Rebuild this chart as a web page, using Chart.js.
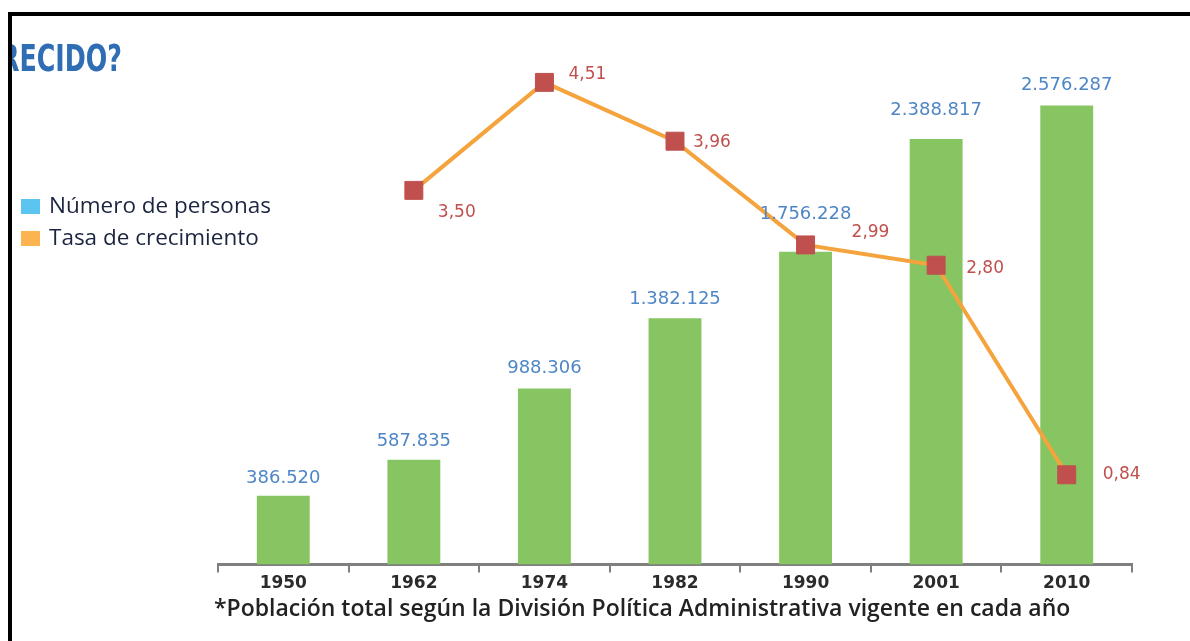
<!DOCTYPE html>
<html>
<head>
  <meta charset="utf-8">
  <script src="https://cdn.jsdelivr.net/npm/chart.js"></script>
  <title>Crecimiento de la población</title>
  <style>
    body { margin: 0; background: #fff; }
    .wrap { position: relative; width: 1190px; height: 641px; overflow: hidden; }
    canvas { position: absolute; left: 0; top: 0; }
    .frame {
      position: absolute; left: 8px; top: 12px; width: 1200px; height: 700px;
      border-top: 4px solid #000; border-left: 4px solid #000;
    }
    .heading {
      position: absolute; left: 12px; top: 36px; width: 200px; height: 46px; overflow: hidden;
    }
    .heading span {
      display: inline-block; margin-left: -12px;
      font-family: "Liberation Sans Narrow", "DejaVu Sans Condensed", sans-serif;
      font-weight: bold; font-size: 38px; color: #2f6db5;
      transform: scaleX(0.74); transform-origin: left center;
    }
    .legend {
      position: absolute; left: 21px; top: 189px;
      font-family: "Open Sans", sans-serif; font-size: 22.5px; color: #1c2540;
    }
    .legend div { height: 32px; line-height: 32px; white-space: nowrap; }
    .legend i {
      display: inline-block; width: 19px; height: 15px; margin-right: 9px; vertical-align: -1px;
    }
    .note {
      position: absolute; left: 214px; top: 591px; white-space: nowrap;
      font-family: "Open Sans", sans-serif; font-weight: 600; font-size: 23px; color: #222;
    }
  </style>
</head>
<body>
  <div class="wrap">
    <canvas id="chart" width="1190" height="641"></canvas>
    <div class="frame"></div>
    <div class="heading"><span>RECIDO?</span></div>
    <div class="legend">
      <div><i style="background:#5bc4f0"></i>Número de personas</div>
      <div><i style="background:#fbb450"></i>Tasa de crecimiento</div>
    </div>
    <div class="note">*Población total según la División Política Administrativa vigente en cada año</div>
  </div>
  <script>
    const years = ['1950', '1962', '1974', '1982', '1990', '2001', '2010'];
    const personas = [386520, 587835, 988306, 1382125, 1756228, 2388817, 2576287];
    const tasa = [null, 3.50, 4.51, 3.96, 2.99, 2.80, 0.84];

    // label placement (pixels relative to bar top / point centre)
    const barLabelDy = [-17, -19, -20, -19, -37, -29, -20];
    const tasaLabelDx = [0, 24, 24, 18, 46, 30, 36];
    const tasaLabelDy = [0, 22, -8, 1, -12, 3, 0];

    function fmtMiles(n) {
      return String(n).replace(/\B(?=(\d{3})+(?!\d))/g, '.');
    }

    const labelsPlugin = {
      id: 'valueLabels',
      afterDatasetsDraw(chart) {
        const ctx = chart.ctx;
        ctx.save();
        ctx.textBaseline = 'middle';

        ctx.font = '18px "DejaVu Sans", sans-serif';
        ctx.fillStyle = '#4f86c6';
        ctx.textAlign = 'center';
        chart.getDatasetMeta(0).data.forEach((bar, i) => {
          ctx.fillText(fmtMiles(personas[i]), bar.x, bar.y + barLabelDy[i]);
        });

        ctx.font = '17px "DejaVu Sans", sans-serif';
        ctx.fillStyle = '#c0504d';
        ctx.textAlign = 'left';
        chart.getDatasetMeta(1).data.forEach((pt, i) => {
          if (tasa[i] == null) return;
          ctx.fillText(tasa[i].toFixed(2).replace('.', ','), pt.x + tasaLabelDx[i], pt.y + tasaLabelDy[i]);
        });
        ctx.restore();
      }
    };

    new Chart(document.getElementById('chart'), {
      type: 'bar',
      data: {
        labels: years,
        datasets: [{
          type: 'bar',
          label: 'Número de personas',
          data: personas,
          backgroundColor: '#86c562',
          categoryPercentage: 1,
          barPercentage: 0.405,
          yAxisID: 'y',
          order: 2
        }, {
          type: 'line',
          label: 'Tasa de crecimiento',
          data: tasa,
          borderColor: '#f5a33c',
          borderWidth: 4,
          pointStyle: 'rect',
          pointRadius: 12.7,
          pointBackgroundColor: '#c0504d',
          pointBorderColor: '#c0504d',
          pointBorderWidth: 1,
          yAxisID: 'y1',
          order: 1
        }]
      },
      options: {
        responsive: false,
        animation: false,
        layout: { padding: { left: 218, right: 58, top: 30, bottom: 46 } },
        plugins: {
          legend: { display: false },
          tooltip: { enabled: false }
        },
        scales: {
          x: {
            grid: {
              offset: true,
              drawOnChartArea: false,
              tickLength: 8,
              color: '#7f7f7f',
              lineWidth: 2
            },
            border: { display: true, color: '#7f7f7f', width: 3 },
            ticks: {
              color: '#2b2b2b',
              padding: 1,
              font: { family: '"DejaVu Sans", sans-serif', size: 17, weight: 'bold' }
            }
          },
          y: { display: false, min: 0, max: 3000000 },
          y1: { display: false, min: 0, max: 5 }
        }
      },
      plugins: [labelsPlugin]
    });
  </script>
</body>
</html>
